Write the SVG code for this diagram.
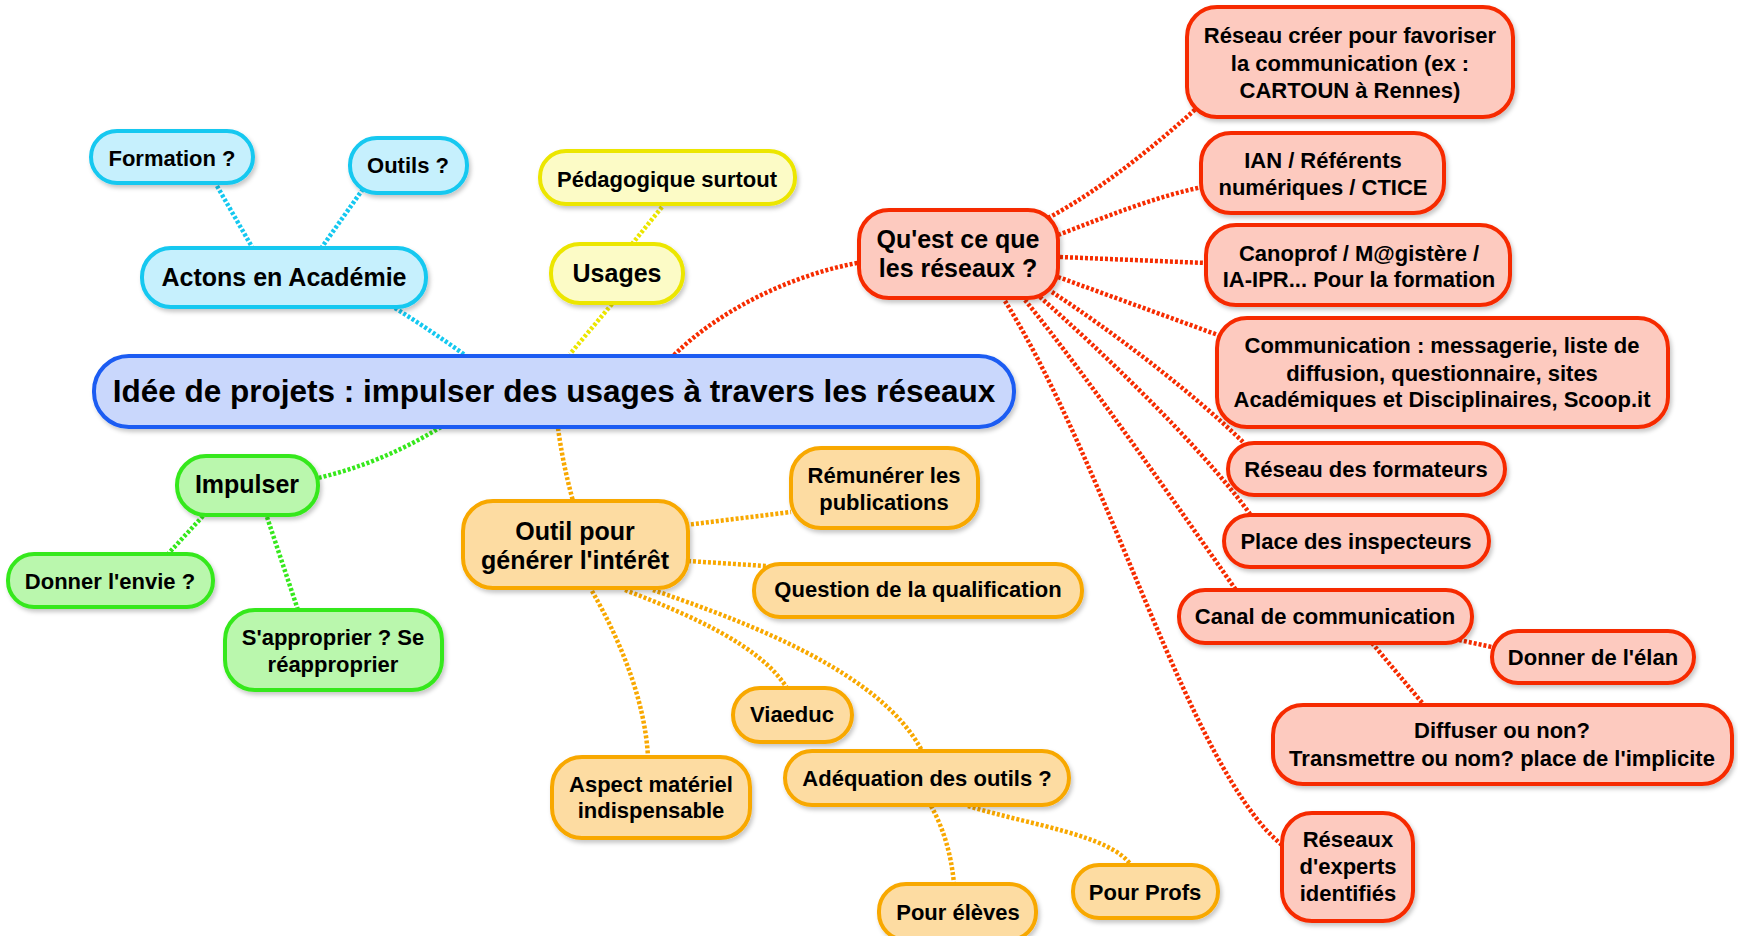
<svg xmlns="http://www.w3.org/2000/svg" width="1738" height="936" viewBox="0 0 1738 936">
<defs>
<filter id="sh" x="-10%" y="-10%" width="125%" height="135%">
<feDropShadow dx="2" dy="3" stdDeviation="2" flood-color="#000" flood-opacity="0.22"/>
</filter>
</defs>
<style>
text{font-family:"Liberation Sans",Arial,sans-serif;font-weight:bold;fill:#000;text-anchor:middle}
.s{font-size:22px}.m{font-size:25px}.l{font-size:31.5px}
.n{stroke-width:4;filter:url(#sh)}
.c{fill:none;stroke-width:4.5;stroke-dasharray:3 2}
.blue{fill:#c9d7fc;stroke:#1a5cf2}
.cy{fill:#c6f0fd;stroke:#14c8f0}
.ye{fill:#fcfbc6;stroke:#ece600}
.gr{fill:#baf7ad;stroke:#36e81c}
.or{fill:#fddca2;stroke:#f8a800}
.rd{fill:#fdcabf;stroke:#f62c00}
.ccy{stroke:#14c8f0}.cye{stroke:#ece600}.cgr{stroke:#36e81c}.cor{stroke:#f8a800}.crd{stroke:#f62c00}
</style>
<g id="connectors">
<path class="c ccy" d="M217,186 L252,247"/>
<path class="c ccy" d="M363,189 L322,247"/>
<path class="c ccy" d="M395,308 Q430,330 465,355"/>
<path class="c cye" d="M662,207 L632,244"/>
<path class="c cye" d="M612,304 L570,354"/>
<path class="c crd" d="M674,355 C720,310 790,275 862,262"/>
<path class="c crd" d="M1048,218 C1100,190 1150,150 1198,107"/>
<path class="c crd" d="M1058,235 C1110,215 1155,197 1202,187"/>
<path class="c crd" d="M1060,257 L1206,263"/>
<path class="c crd" d="M1058,277 L1218,335"/>
<path class="c crd" d="M1052,292 C1110,330 1190,390 1244,443"/>
<path class="c crd" d="M1040,297 C1100,350 1200,445 1250,514"/>
<path class="c crd" d="M1025,300 C1090,380 1180,510 1236,590"/>
<path class="c crd" d="M1005,301 C1110,470 1190,770 1282,845"/>
<path class="c crd" d="M1459,640 L1492,647"/>
<path class="c crd" d="M1372,643 L1424,705"/>
<path class="c cgr" d="M441,427 C400,452 360,468 318,478"/>
<path class="c cgr" d="M203,516 L168,554"/>
<path class="c cgr" d="M267,517 L298,610"/>
<path class="c cor" d="M558,428 Q563,465 573,501"/>
<path class="c cor" d="M686,525 L791,512"/>
<path class="c cor" d="M688,561 L766,566"/>
<path class="c cor" d="M592,591 C620,640 645,700 648,757"/>
<path class="c cor" d="M625,590 C690,615 760,645 787,688"/>
<path class="c cor" d="M653,590 C740,620 880,670 922,751"/>
<path class="c cor" d="M931,806 Q950,840 954,884"/>
<path class="c cor" d="M968,806 C1030,825 1110,835 1131,865"/>
</g>
<g id="n-central"><rect class="n blue" x="94" y="356" width="920" height="71" rx="35"/><text class="l" x="554" y="402">Idée de projets : impulser des usages à travers les réseaux</text></g>
<g id="n-actons"><rect class="n cy" x="142" y="248" width="284" height="59" rx="29"/><text class="m" x="284" y="286">Actons en Académie</text></g>
<g id="n-formation"><rect class="n cy" x="91" y="131" width="162" height="52" rx="26"/><text class="s" x="172" y="166">Formation ?</text></g>
<g id="n-outils"><rect class="n cy" x="350" y="138" width="117" height="55" rx="27"/><text class="s" x="408" y="173">Outils ?</text></g>
<g id="n-usages"><rect class="n ye" x="551" y="244" width="132" height="59" rx="29"/><text class="m" x="617" y="282">Usages</text></g>
<g id="n-pedago"><rect class="n ye" x="540" y="151" width="255" height="53" rx="26"/><text class="s" x="667" y="187">Pédagogique surtout</text></g>
<g id="n-impulser"><rect class="n gr" x="177" y="456" width="141" height="59" rx="29"/><text class="m" x="247" y="493">Impulser</text></g>
<g id="n-envie"><rect class="n gr" x="8" y="554" width="205" height="53" rx="26"/><text class="s" x="110" y="589">Donner l'envie ?</text></g>
<g id="n-approprier"><rect class="n gr" x="225" y="610" width="217" height="80" rx="30"/><text class="s" x="333" y="645">S'approprier ? Se</text><text class="s" x="333" y="672">réapproprier</text></g>
<g id="n-outil"><rect class="n or" x="463" y="501" width="225" height="87" rx="30"/><text class="m" x="575" y="540">Outil pour</text><text class="m" x="575" y="569">générer l'intérêt</text></g>
<g id="n-remunerer"><rect class="n or" x="791" y="448" width="187" height="80" rx="30"/><text class="s" x="884" y="483">Rémunérer les</text><text class="s" x="884" y="510">publications</text></g>
<g id="n-question"><rect class="n or" x="754" y="564" width="328" height="53" rx="26"/><text class="s" x="918" y="597">Question de la qualification</text></g>
<g id="n-aspect"><rect class="n or" x="552" y="757" width="198" height="81" rx="30"/><text class="s" x="651" y="792">Aspect matériel</text><text class="s" x="651" y="818">indispensable</text></g>
<g id="n-viaeduc"><rect class="n or" x="733" y="688" width="119" height="54" rx="27"/><text class="s" x="792" y="722">Viaeduc</text></g>
<g id="n-adequation"><rect class="n or" x="785" y="751" width="284" height="54" rx="27"/><text class="s" x="927" y="786">Adéquation des outils ?</text></g>
<g id="n-eleves"><rect class="n or" x="879" y="884" width="157" height="56" rx="27"/><text class="s" x="958" y="920">Pour élèves</text></g>
<g id="n-profs"><rect class="n or" x="1073" y="865" width="145" height="53" rx="26"/><text class="s" x="1145" y="900">Pour Profs</text></g>
<g id="n-questce"><rect class="n rd" x="859" y="210" width="199" height="88" rx="30"/><text class="m" x="958" y="248">Qu'est ce que</text><text class="m" x="958" y="277">les réseaux ?</text></g>
<g id="n-reseaucreer"><rect class="n rd" x="1187" y="7" width="326" height="110" rx="30"/><text class="s" x="1350" y="43">Réseau créer pour favoriser</text><text class="s" x="1350" y="71">la communication (ex :</text><text class="s" x="1350" y="98">CARTOUN à Rennes)</text></g>
<g id="n-ian"><rect class="n rd" x="1201" y="133" width="243" height="80" rx="30"/><text class="s" x="1323" y="168">IAN / Référents</text><text class="s" x="1323" y="195">numériques / CTICE</text></g>
<g id="n-canoprof"><rect class="n rd" x="1206" y="225" width="304" height="80" rx="30"/><text class="s" x="1359" y="261">Canoprof / M@gistère /</text><text class="s" x="1359" y="287">IA-IPR... Pour la formation</text></g>
<g id="n-communication"><rect class="n rd" x="1217" y="318" width="451" height="109" rx="30"/><text class="s" x="1442" y="353">Communication : messagerie, liste de</text><text class="s" x="1442" y="381">diffusion, questionnaire, sites</text><text class="s" x="1442" y="407">Académiques et Disciplinaires, Scoop.it</text></g>
<g id="n-formateurs"><rect class="n rd" x="1228" y="443" width="277" height="52" rx="26"/><text class="s" x="1366" y="477">Réseau des formateurs</text></g>
<g id="n-inspecteurs"><rect class="n rd" x="1224" y="515" width="265" height="52" rx="26"/><text class="s" x="1356" y="549">Place des inspecteurs</text></g>
<g id="n-canal"><rect class="n rd" x="1179" y="590" width="293" height="53" rx="26"/><text class="s" x="1325" y="624">Canal de communication</text></g>
<g id="n-elan"><rect class="n rd" x="1492" y="631" width="202" height="52" rx="26"/><text class="s" x="1593" y="665">Donner de l'élan</text></g>
<g id="n-diffuser"><rect class="n rd" x="1273" y="705" width="459" height="79" rx="30"/><text class="s" x="1502" y="738">Diffuser ou non?</text><text class="s" x="1502" y="766">Transmettre ou nom? place de l'implicite</text></g>
<g id="n-experts"><rect class="n rd" x="1282" y="813" width="131" height="108" rx="30"/><text class="s" x="1348" y="847">Réseaux</text><text class="s" x="1348" y="874">d'experts</text><text class="s" x="1348" y="901">identifiés</text></g>
</svg>
